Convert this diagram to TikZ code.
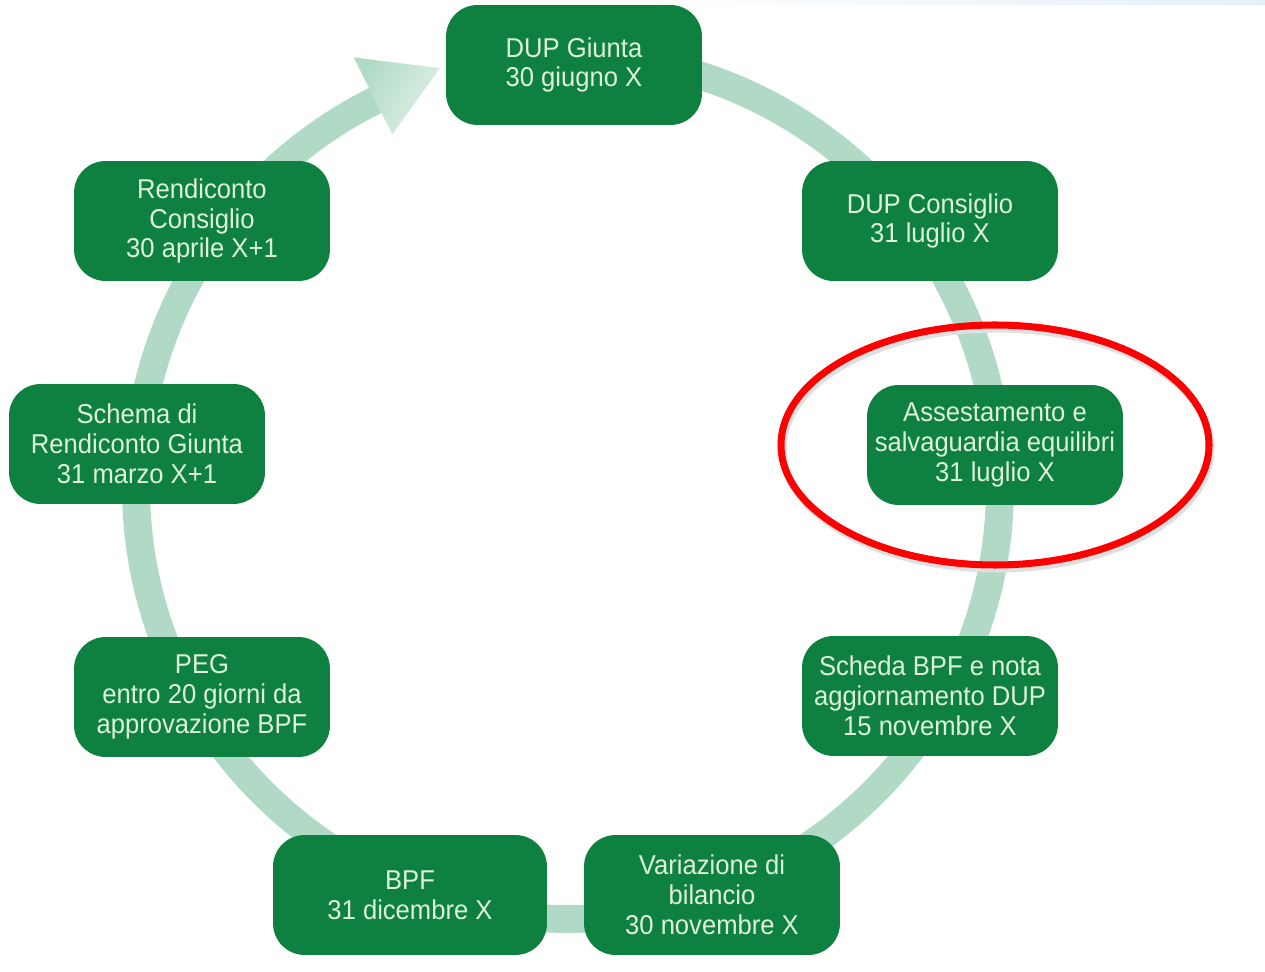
\documentclass[tikz,border=0pt]{standalone}
\usepackage{fontspec}
\setmainfont{Liberation Sans}[FakeStretch=0.94]
\usetikzlibrary{calc}

\definecolor{boxgreen}{RGB}{14,129,64}
\definecolor{boxtext}{RGB}{222,242,218}
\definecolor{ringgreen}{RGB}{176,218,197}
\definecolor{ringlight}{RGB}{224,241,231}
\definecolor{topband}{RGB}{230,239,247}

\begin{document}
\begin{tikzpicture}[x=0.02cm, y=-0.02cm,
    phase/.style={fill=boxgreen, rounded corners=18pt, text=boxtext, align=center,
        minimum width=5.12cm, minimum height=2.4cm, inner sep=0pt,
        font=\fontsize{15.5}{17}\selectfont}]
    \def\radius{432}
    \useasboundingbox (0,0) rectangle (1265,972);

    % faint band at the top edge
    \shade[left color=white, right color=topband] (640,0) rectangle (1265,5);

    % cycle ring, clockwise from the top
    \coordinate (c) at (568,487);
    \draw[ringgreen, line width=15.9pt] (c) ++(-88:\radius) arc[start angle=-88, end angle=243.5, radius=\radius];
    % arrowhead into DUP Giunta
    \shade[left color=ringgreen, right color=ringlight, shading angle=60]
        ($(c)+(243.5:394)$) -- ($(c)+(243.5:480)$) -- ($(c)+(253:438)$) -- cycle;

    % phases
    \node[phase] (giunta) at (574,65) {DUP Giunta\\30 giugno X};
    \node[phase] (consiglio) at (930,221) {DUP Consiglio\\31 luglio X};
    \node[phase] (assest) at (995,445) {Assestamento e\\salvaguardia equilibri\\31 luglio X};
    \node[phase] (scheda) at (930,696) {Scheda BPF e nota\\aggiornamento DUP\\15 novembre X};
    \node[phase] (variaz) at (712,895) {Variazione di\\bilancio\\30 novembre X};
    \node[phase, minimum width=5.48cm] (bpf) at (410,895) {BPF\\31 dicembre X};
    \node[phase] (peg) at (202,697) {PEG\\entro 20 giorni da\\approvazione BPF};
    \node[phase] (schema) at (137,444) {Schema di\\Rendiconto Giunta\\31 marzo X+1};
    \node[phase] (rendic) at (202,221) {Rendiconto\\Consiglio\\30 aprile X+1};

    % red highlight round the assestamento
    \draw[black!12, line width=4pt] (997,449) ellipse[x radius=214, y radius=120];
    \draw[red, line width=4pt] (assest.center) ellipse[x radius=214, y radius=120];
\end{tikzpicture}
\end{document}
